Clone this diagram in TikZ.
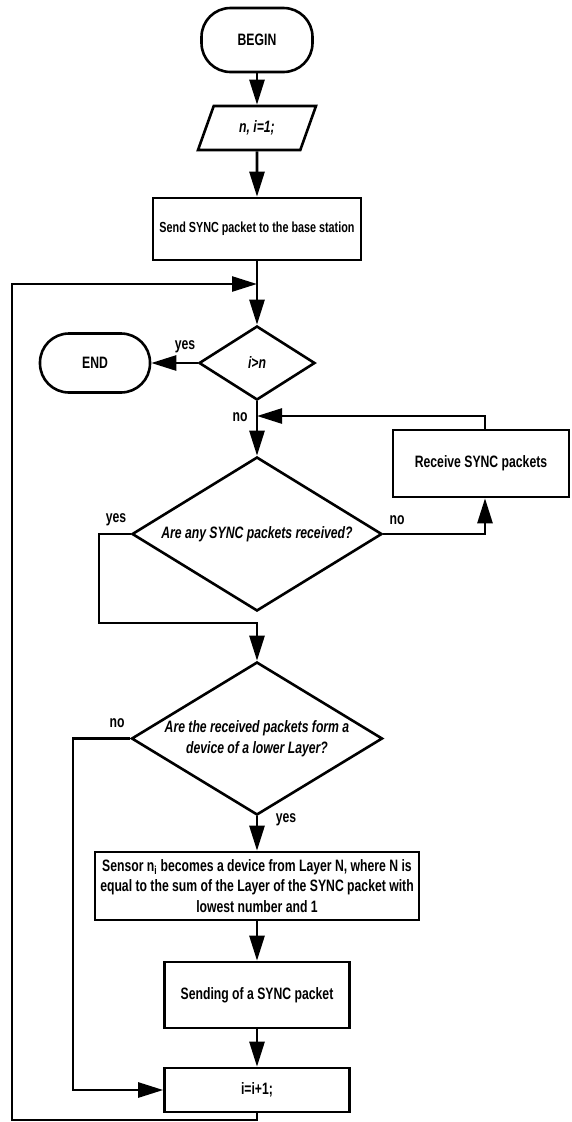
\documentclass[tikz,border=0pt]{standalone}
\usepackage{fontspec}
\setmainfont{Liberation Sans}[FakeStretch=0.74]
\usetikzlibrary{shapes.geometric,arrows.meta}
\begin{document}
\begin{tikzpicture}[x=1pt,y=-1pt,line width=2.6pt,
  every node/.style={font=\fontsize{16.5}{20.5}\selectfont\bfseries,align=center,inner sep=0pt},
  box/.style={draw,rectangle},
  term/.style={draw,rectangle,rounded corners=29pt},
  io/.style={draw,trapezium,trapezium left angle=66,trapezium right angle=114,trapezium stretches=true},
  dec/.style={draw,diamond},
  arr/.style={-{Triangle[length=25pt,width=15pt]}}]
\fill[white] (0,0) rectangle (571,1122);
\useasboundingbox (0,0) rectangle (571,1122);
% nodes
\node[term,minimum width=111,minimum height=64] (begin) at (257,40) {BEGIN};
\node[io,minimum width=118,minimum height=44] (para) at (257,128) {\itshape n, i=1;};
\node[box,minimum width=208,minimum height=62,font=\fontsize{14.6}{18}\selectfont\bfseries] (send) at (257,229) {Send SYNC packet to the base station};
\node[dec,aspect=1.57,minimum width=116,minimum height=74] (dec1) at (257,363) {\itshape i>n};
\node[term,minimum width=110,minimum height=59] (end) at (95,363) {END};
\node[dec,aspect=1.62,minimum width=250,minimum height=154] (dec2) at (257,534) {\itshape Are any SYNC packets received?};
\node[box,minimum width=176,minimum height=67] (recv) at (481,463.5) {Receive SYNC packets};
\node[dec,aspect=1.64,minimum width=251,minimum height=153] (dec3) at (257,738.5) {\itshape Are the received packets form a\\\itshape device of a lower Layer?};
\node[box,minimum width=324,minimum height=68] (sensor) at (257,886) {Sensor n\textsubscript{i} becomes a device from Layer N, where N is\\equal to the sum of the Layer of the SYNC packet with\\lowest number and 1};
\node[box,minimum width=185,minimum height=66] (sendp) at (257,995) {Sending of a SYNC packet};
\node[box,minimum width=185,minimum height=44] (incr) at (257,1090) {i=i+1;};
% helper coordinates
\coordinate (j0) at (257,284);
\coordinate (j1) at (257,416);
\coordinate (rx) at (485,0);
\coordinate (c1) at (12,1120);
\coordinate (c2) at (99,623);
\coordinate (c3) at (73,1090);
% connectors
\draw[arr] (begin) -- (para);
\draw[arr] (para) -- (send);
\draw[arr] (send) -- (dec1);
\draw[arr] (dec1.west) -- (end.east);
\draw[arr] (dec1.south) -- (dec2.north);
\draw[arr] (dec2.east) -| (recv.south -| rx);
\draw[arr] (recv.north -| rx) |- (j1);
\draw[arr] (dec2.west) -| (c2) -| (dec3.north);
\draw[arr] (dec3.south) -- (sensor.north);
\draw[arr] (dec3.west) -| (c3) -- (incr.west);
\draw[arr] (sensor) -- (sendp);
\draw[arr] (sendp) -- (incr);
\draw[arr] (incr.south) |- (c1) |- (j0);
% labels
\node (l1) at (185,347) {yes};
\node (l2) at (240,417) {no};
\node (l3) at (116,520) {yes};
\node (l4) at (397,520) {no};
\node (l5) at (117,723) {no};
\node (l6) at (286,820) {yes};
\end{tikzpicture}
\end{document}
